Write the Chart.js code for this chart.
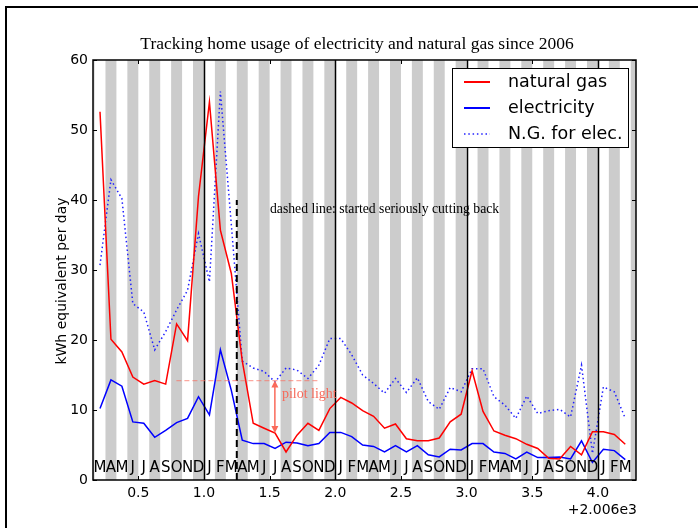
<!DOCTYPE html>
<html>
<head>
<meta charset="utf-8">
<title>Home energy usage</title>
<script src="https://cdn.jsdelivr.net/npm/chart.js@4.4.1/dist/chart.umd.min.js"></script>
<style>
  body { margin: 0; background: #fff; }
  canvas { display: block; }
</style>
</head>
<body>
<canvas id="grafica" width="698" height="528"></canvas>
<script>
// Datos mensuales, de marzo 2006 a marzo 2010 (kWh equivalentes por dia)
const firstMonth = 2; // indice del mes inicial (0 = enero 2006), es decir marzo 2006
const monthLetters = ['J', 'F', 'M', 'A', 'M', 'J', 'J', 'A', 'S', 'O', 'N', 'D'];

const natGas = [
  52.6, 20.1, 18.3, 14.7, 13.7, 14.2, 13.7, 22.3, 19.9, 40.5,
  54.0, 35.7, 29.5, 17.0, 8.1, 7.4, 6.7, 4.0, 6.4, 8.1, 7.1, 10.2,
  11.8, 11.0, 9.9, 9.1, 7.4, 8.0, 5.9, 5.6, 5.6, 6.0, 8.3, 9.4,
  15.6, 9.8, 7.0, 6.4, 5.9, 5.1, 4.5, 3.1, 3.0, 4.8, 3.6, 6.9,
  6.9, 6.5, 5.1
];
const electricity = [
  10.2, 14.3, 13.4, 8.3, 8.1, 6.1, 7.1, 8.2, 8.8, 11.9,
  9.3, 18.6, 12.8, 5.7, 5.2, 5.2, 4.5, 5.4, 5.3, 4.9, 5.2, 6.8,
  6.8, 6.2, 5.0, 4.8, 4.0, 4.9, 4.0, 4.9, 3.6, 3.3, 4.4, 4.3,
  5.2, 5.2, 4.0, 3.8, 3.0, 4.0, 3.2, 3.2, 3.3, 3.0, 5.6, 2.5,
  4.4, 4.2, 2.9
];
const ngForElec = [
  30.7, 42.9, 40.2, 25.2, 24.0, 18.6, 21.2, 24.3, 27.1, 35.2,
  28.3, 55.5, 36.5, 17.0, 16.0, 15.5, 14.0, 16.0, 15.7, 14.5, 16.4, 20.2,
  20.2, 17.9, 15.0, 13.8, 12.4, 14.5, 12.5, 14.6, 11.2, 10.1, 13.2, 12.6,
  15.9, 15.9, 11.9, 10.7, 8.8, 12.0, 9.5, 9.9, 10.1, 9.0, 16.4, 3.8,
  13.3, 12.6, 8.8
];

const xTicks = [0.5, 1.0, 1.5, 2.0, 2.5, 3.0, 3.5, 4.0];
const yTicks = [0, 10, 20, 30, 40, 50, 60];
const xRange = [0.155, 4.29];
const yRange = [0, 60];
const yearLines = [1, 2, 3, 4];
const cutback = { x: 1.25, top: 40 };
const pilot = { level: 14.2, from: 0.79, to: 1.88, arrowX: 1.54, arrowBottom: 6.7 };

const titulo = 'Tracking home usage of electricity and natural gas since 2006';
const etiquetaY = 'kWh equivalent per day';
const offsetTexto = '+2.006e3';

// posicion (en anios desde 2006) del centro de cada mes
function mesX(i) { return (firstMonth + i + 0.5) / 12; }
function toPoints(arr) { return arr.map((v, i) => ({ x: mesX(i), y: v })); }

const SANS = '"DejaVu Sans", sans-serif';
const SERIF = '"Liberation Serif", "DejaVu Serif", serif';

const decor = {
  id: 'decor',
  beforeDraw(chart) {
    const c = chart.ctx;
    c.save();
    c.fillStyle = '#fff';
    c.fillRect(0, 0, chart.width, chart.height);
    // marco exterior de la figura
    c.strokeStyle = '#000';
    c.lineWidth = 2;
    c.beginPath();
    c.moveTo(6, chart.height + 2);
    c.lineTo(6, 7);
    c.lineTo(chart.width + 2, 7);
    c.stroke();
    c.restore();
  },
  beforeDatasetsDraw(chart) {
    const c = chart.ctx, a = chart.chartArea, sx = chart.scales.x;
    c.save();
    c.beginPath();
    c.rect(a.left, a.top, a.right - a.left, a.bottom - a.top);
    c.clip();
    // franjas grises en los meses pares (feb, abr, ...)
    c.fillStyle = '#cccccc';
    for (let m = 0; m < 60; m++) {
      if (m % 2 !== 1) continue;
      const x0 = sx.getPixelForValue(m / 12);
      const x1 = sx.getPixelForValue((m + 1) / 12);
      if (x1 < a.left || x0 > a.right) continue;
      c.fillRect(x0, a.top, x1 - x0, a.bottom - a.top);
    }
    c.restore();
  },
  afterDatasetsDraw(chart) {
    const c = chart.ctx, a = chart.chartArea, sx = chart.scales.x, sy = chart.scales.y;
    c.save();
    // letras de los meses
    c.fillStyle = '#000';
    c.font = '15px ' + SANS;
    c.textAlign = 'center';
    c.textBaseline = 'middle';
    for (let i = 0; i < natGas.length; i++) {
      const m = (firstMonth + i) % 12;
      c.fillText(monthLetters[m], sx.getPixelForValue(mesX(i)), 468);
    }
    // lineas de anio
    c.strokeStyle = '#000';
    c.lineWidth = 1.5;
    yearLines.forEach(v => {
      const x = Math.round(sx.getPixelForValue(v)) + 0.5;
      c.beginPath();
      c.moveTo(x, a.top);
      c.lineTo(x, a.bottom);
      c.stroke();
    });
    // linea discontinua: inicio del recorte
    c.lineWidth = 2;
    c.setLineDash([7, 4]);
    const xc = sx.getPixelForValue(cutback.x);
    c.beginPath();
    c.moveTo(xc, sy.getPixelForValue(0));
    c.lineTo(xc, sy.getPixelForValue(cutback.top));
    c.stroke();
    // piloto
    c.strokeStyle = 'rgba(250, 110, 95, 0.6)';
    c.lineWidth = 1.2;
    c.setLineDash([5, 3]);
    const yp = sy.getPixelForValue(pilot.level);
    c.beginPath();
    c.moveTo(sx.getPixelForValue(pilot.from), yp);
    c.lineTo(sx.getPixelForValue(pilot.to), yp);
    c.stroke();
    c.setLineDash([]);
    const xa = sx.getPixelForValue(pilot.arrowX);
    const yb = sy.getPixelForValue(pilot.arrowBottom);
    c.strokeStyle = '#fa6a5a';
    c.fillStyle = '#fa6a5a';
    c.lineWidth = 1.5;
    c.beginPath();
    c.moveTo(xa, yp + 3);
    c.lineTo(xa, yb - 3);
    c.stroke();
    c.beginPath();
    c.moveTo(xa, yp); c.lineTo(xa - 3.5, yp + 7); c.lineTo(xa + 3.5, yp + 7); c.closePath();
    c.fill();
    c.beginPath();
    c.moveTo(xa, yb); c.lineTo(xa - 3.5, yb - 7); c.lineTo(xa + 3.5, yb - 7); c.closePath();
    c.fill();
    c.font = '14px ' + SERIF;
    c.textAlign = 'left';
    c.fillStyle = '#f76a5a';
    c.fillText('pilot light', xa + 7, 394);
    c.fillStyle = '#000';
    c.font = '13.7px ' + SERIF;
    c.fillText('dashed line: started seriously cutting back', 270, 209);
    c.restore();
  },
  afterDraw(chart) {
    const c = chart.ctx, a = chart.chartArea, sx = chart.scales.x, sy = chart.scales.y;
    c.save();
    // marco del grafico
    c.strokeStyle = '#000';
    c.lineWidth = 1.5;
    c.strokeRect(a.left, a.top, a.right - a.left, a.bottom - a.top);
    // marcas hacia adentro
    c.lineWidth = 1;
    c.beginPath();
    xTicks.forEach(v => {
      const x = Math.round(sx.getPixelForValue(v)) + 0.5;
      c.moveTo(x, a.bottom); c.lineTo(x, a.bottom - 4);
      c.moveTo(x, a.top); c.lineTo(x, a.top + 4);
    });
    yTicks.forEach(v => {
      const y = Math.round(sy.getPixelForValue(v)) + 0.5;
      c.moveTo(a.left, y); c.lineTo(a.left + 4, y);
      c.moveTo(a.right, y); c.lineTo(a.right - 4, y);
    });
    c.stroke();
    // titulo
    c.fillStyle = '#000';
    c.font = '17.5px ' + SERIF;
    c.textAlign = 'center';
    c.textBaseline = 'middle';
    c.fillText(titulo, 357, 44);
    // etiqueta eje Y
    c.font = '14px ' + SANS;
    c.translate(62, 281);
    c.rotate(-Math.PI / 2);
    c.fillText(etiquetaY, 0, 0);
    c.setTransform(1, 0, 0, 1, 0, 0);
    // texto de desplazamiento del eje X
    c.font = '14px ' + SANS;
    c.textAlign = 'right';
    c.fillText(offsetTexto, a.right + 1, 510);
    // leyenda
    const lx = 452, ly = 68, lw = 176, lh = 79;
    c.fillStyle = '#fff';
    c.fillRect(lx, ly, lw, lh);
    c.strokeStyle = '#000';
    c.lineWidth = 1;
    c.strokeRect(lx + 0.5, ly + 0.5, lw, lh);
    c.font = '17.5px ' + SANS;
    c.textAlign = 'left';
    chart.data.datasets.forEach((ds, i) => {
      const y = ly + 14 + i * 26;
      c.strokeStyle = ds.borderColor;
      c.lineWidth = ds.borderDash ? 1.5 : 2;
      c.setLineDash(ds.borderDash || []);
      c.beginPath();
      c.moveTo(lx + 12, y);
      c.lineTo(lx + 38, y);
      c.stroke();
      c.setLineDash([]);
      c.fillStyle = '#000';
      c.fillText(ds.label, lx + 56, y);
    });
    c.restore();
  }
};

new Chart(document.getElementById('grafica'), {
  type: 'line',
  data: {
    datasets: [
      { label: 'natural gas', data: toPoints(natGas), borderColor: '#ff0000', borderWidth: 1.5 },
      { label: 'electricity', data: toPoints(electricity), borderColor: '#0000ff', borderWidth: 1.5 },
      { label: 'N.G. for elec.', data: toPoints(ngForElec), borderColor: '#2020ff', borderWidth: 1.5, borderDash: [1.5, 2.8] }
    ]
  },
  options: {
    responsive: false,
    animation: false,
    elements: { point: { radius: 0 }, line: { tension: 0 } },
    layout: { padding: { top: 60, right: 62, left: 0, bottom: 0 } },
    plugins: { legend: { display: false }, title: { display: false }, tooltip: { enabled: false } },
    scales: {
      x: {
        type: 'linear',
        min: xRange[0],
        max: xRange[1],
        grid: { display: false, drawTicks: false },
        border: { display: false },
        afterBuildTicks: s => { s.ticks = xTicks.map(v => ({ value: v })); },
        afterFit: s => { s.height = 48; },
        ticks: {
          padding: 5,
          color: '#000',
          font: { family: SANS, size: 14 },
          maxRotation: 0,
          callback: v => Number(v).toFixed(1)
        }
      },
      y: {
        min: yRange[0],
        max: yRange[1],
        grid: { display: false, drawTicks: false },
        border: { display: false },
        afterBuildTicks: s => { s.ticks = yTicks.map(v => ({ value: v })); },
        afterFit: s => { s.width = 93; },
        ticks: {
          padding: 5,
          color: '#000',
          font: { family: SANS, size: 14 }
        }
      }
    }
  },
  plugins: [decor]
});
</script>
</body>
</html>
